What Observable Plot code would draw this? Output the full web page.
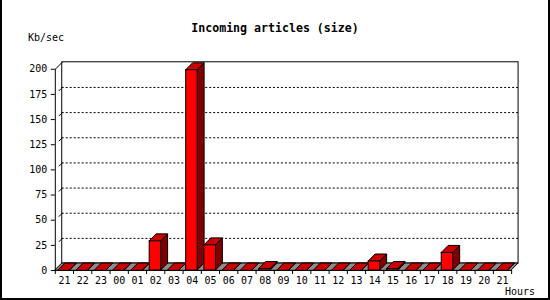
<!DOCTYPE html>
<html>
<head>
<meta charset="utf-8">
<script src="https://cdn.jsdelivr.net/npm/d3@7"></script>
<script src="https://cdn.jsdelivr.net/npm/@observablehq/plot@0.6"></script>
<style>
  html, body { margin: 0; padding: 0; background: #fff; }
  #wrap { position: relative; width: 550px; height: 300px; box-sizing: border-box;
          border-left: 2px solid #000; border-right: 2px solid #000; border-bottom: 2px solid #000; overflow: hidden; }
  #chart { position: absolute; left: -2px; top: 2px; }
  .lbl { position: absolute; font-family: "DejaVu Sans Mono", monospace; font-size: 10px; color: #000; white-space: nowrap; }
  #title { position: absolute; left: 0; width: 546px; top: 21px; text-align: center;
           font-family: "DejaVu Sans Mono", monospace; font-weight: bold; font-size: 11.6px; }
</style>
</head>
<body>
<div id="wrap">
  <div id="chart"></div>
  <div id="title">Incoming articles (size)</div>
  <div class="lbl" style="left:26px; top:32px;">Kb/sec</div>
  <div class="lbl" style="left:503px; top:286px;">Hours</div>
</div>
<script>
const hours = ["21","22","23","00","01","02","03","04","05","06","07","08","09","10","11","12","13","14","15","16","17","18","19","20","21"];
const values = [0,0,0,0,0,29,0,199,25,0,0,1.5,0,0,0,0,0,9,1.5,0,0,17.5,0,0,0];
const yTicks = [0,25,50,75,100,125,150,175,200];
const gridValues = [25,50,75,100,125,150,175];

// 3D depth offsets, in data units (≈7px in each direction)
const DX = 0.38, DY = 6.93;
const L = 0.17, R = 0.8;   // bar front face within each hour slot

const n = hours.length;
const bars = values.map((v, i) => ({i, v}));
const sidePts = bars.flatMap(b => [
  {z: b.i, x: b.i + R, y1: 0, y2: b.v},
  {z: b.i, x: b.i + R + DX, y1: DY, y2: b.v + DY}
]);
const topPts = bars.flatMap(b => [
  {z: b.i, y: b.v, x1: b.i + L, x2: b.i + R},
  {z: b.i, y: b.v + DY, x1: b.i + L + DX, x2: b.i + R + DX}
]);
const floorPts = [
  {y: 0, x1: 0, x2: n},
  {y: DY, x1: DX, x2: n + DX}
];

const font = "DejaVu Sans Mono, monospace";

const chart = Plot.plot({
  width: 550,
  height: 300,
  marginLeft: 55,
  marginRight: 37,
  marginTop: 67,
  marginBottom: 31,
  style: {background: "transparent", fontFamily: font, fontSize: "10px", color: "#000", overflow: "visible"},
  x: {type: "linear", domain: [0, n], axis: null},
  y: {type: "linear", domain: [0, 200], axis: null},
  marks: [
    // back wall
    Plot.rect([0], {x1: DX, x2: n + DX, y1: DY, y2: 200 + DY, fill: "white", stroke: "black", strokeWidth: 1}),
    // dotted grid on back wall
    Plot.ruleY(gridValues, {y: d => d + DY, x1: DX, x2: n + DX, stroke: "black", strokeDasharray: "2,2", strokeWidth: 1}),
    // grid stubs on left wall
    Plot.link(gridValues, {x1: 0, y1: d => d, x2: DX, y2: d => d + DY, stroke: "black", strokeDasharray: "0,5,3", strokeWidth: 1}),
    // top-left connector
    Plot.link([200], {x1: 0, y1: d => d, x2: DX, y2: d => d + DY, stroke: "black"}),
    // floor
    Plot.areaX(floorPts, {y: "y", x1: "x1", x2: "x2", fill: "#8c8c8c", stroke: "black", strokeWidth: 1, curve: "linear"}),
    // bar sides and tops
    Plot.areaY(sidePts, {x: "x", y1: "y1", y2: "y2", z: "z", fill: "#800000", stroke: "black", strokeWidth: 1}),
    Plot.areaX(topPts, {y: "y", x1: "x1", x2: "x2", z: "z", fill: "#c80000", stroke: "black", strokeWidth: 1}),
    // bar fronts
    Plot.rect(bars.filter(b => b.v > 0), {x1: b => b.i + L, x2: b => b.i + R, y1: 0, y2: "v", fill: "#ff0000", stroke: "black", strokeWidth: 1}),
    // axes lines
    Plot.ruleX([0], {y1: 0, y2: 200, stroke: "black"}),
    Plot.ruleY([0], {x1: 0, x2: n, stroke: "black"}),
    // y axis
    Plot.axisY(yTicks, {tickSize: 4, tickPadding: 4, fontSize: 10, fontFamily: font, label: null}),
    // x axis: tick marks at slot boundaries, labels at slot centers
    Plot.axisX(d3.range(0, n + 1), {tickSize: 4, tickFormat: () => "", label: null}),
    Plot.axisX(d3.range(n).map(i => i + 0.5), {tickSize: 0, tickPadding: 6, tickFormat: d => hours[Math.floor(d)], fontSize: 10, fontFamily: font, label: null})
  ]
});
document.getElementById("chart").appendChild(chart);
</script>
</body>
</html>
